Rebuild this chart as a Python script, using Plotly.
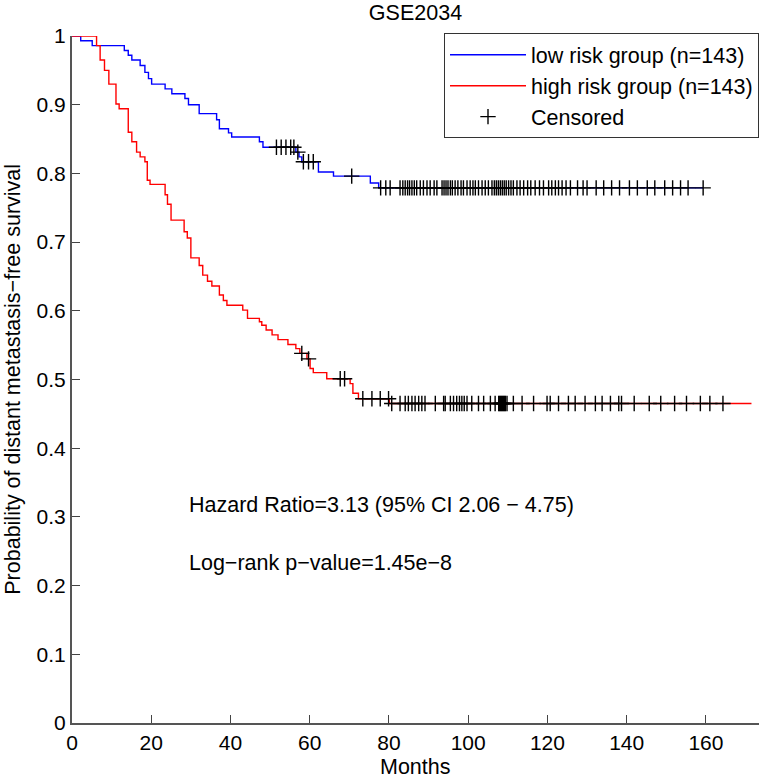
import plotly.graph_objects as go

# step points (months, survival)
low_t = [0, 2.2, 5.1, 13.2, 14.2, 15.1, 17.2, 18.4, 19.3, 20.1, 23.5, 25.2, 28.5, 29.4,
         32.1, 36.5, 37.2, 39.5, 40.3, 47.3, 48.2, 56.5, 57.3, 58.0, 62.2, 66.0, 75.3,
         77.4, 159.3]
low_s = [1.0, 0.993, 0.986, 0.979, 0.972, 0.965, 0.957, 0.947, 0.938, 0.930, 0.923, 0.916,
         0.909, 0.900, 0.887, 0.878, 0.865, 0.859, 0.853, 0.846, 0.838, 0.831, 0.824, 0.817,
         0.802, 0.796, 0.786, 0.779, 0.779]

high_t = [0, 6.2, 7.1, 8.2, 9.3, 11.1, 11.9, 14.2, 15.1, 16.3, 17.2, 18.4, 19.0, 19.7,
          23.5, 24.1, 25.0, 28.3, 29.1, 30.0, 32.1, 33.0, 34.2, 35.3, 37.2, 38.2, 39.1,
          43.1, 44.3, 47.3, 47.9, 49.0, 50.5, 52.0, 54.5, 56.5, 57.5, 59.3, 60.1, 60.9,
          64.3, 70.2, 70.9, 72.3, 80.1, 171.5]
high_s = [1.0, 0.986, 0.965, 0.950, 0.930, 0.901, 0.894, 0.860, 0.846, 0.831, 0.824, 0.817,
          0.790, 0.784, 0.769, 0.755, 0.732, 0.715, 0.706, 0.677, 0.666, 0.652, 0.643, 0.636,
          0.623, 0.615, 0.608, 0.601, 0.589, 0.584, 0.579, 0.572, 0.565, 0.558, 0.551, 0.545,
          0.538, 0.530, 0.516, 0.510, 0.501, 0.494, 0.480, 0.472, 0.465, 0.465]

# censored times
low_cens = [51.6, 52.8, 54.0, 55.2, 56.0, 57.0, 58.4, 59.7, 60.9, 70.6,
            77.9, 79.2, 80.3, 82.8, 83.5, 84.1, 84.7, 85.2, 85.8, 86.4, 87.0, 87.9, 88.7,
            89.6, 90.4, 91.4, 92.1, 93.4, 93.9, 94.4, 94.9, 95.5, 96.0, 96.7, 97.4, 98.2,
            98.8, 99.7, 100.5, 101.2, 101.8, 102.6, 103.5, 104.3, 105.1, 106.0, 106.6,
            107.1, 107.6, 108.1, 108.6, 109.1, 109.6, 110.2, 110.8, 111.4, 112.3, 113.1,
            114.0, 115.0, 115.8, 116.9, 118.0, 119.0, 120.3, 121.1, 122.0, 122.8, 123.7,
            124.7, 125.8, 127.6, 129.0, 130.0, 132.3, 134.2, 136.2, 138.2, 140.7, 142.7,
            145.2, 147.1, 149.6, 151.6, 153.6, 155.5, 159.3]
high_cens = [58.0, 59.7, 67.7, 68.8, 73.4, 75.7, 77.8, 79.9,
             80.7, 82.8, 84.1, 84.9, 85.8, 86.6, 87.5, 88.3, 89.1, 91.7, 93.8, 94.2, 95.5,
             96.3, 97.1, 97.8, 98.4, 99.0, 99.7, 100.9, 102.6, 103.9, 105.6, 106.8, 107.7,
             107.9, 108.2, 108.4, 108.7, 108.9, 109.2, 109.4, 109.8, 111.4, 113.6, 116.5,
             119.9, 120.7, 122.8, 125.3, 127.0, 129.5, 132.1, 133.8, 135.9, 138.0, 138.7,
             141.9, 145.7, 148.6, 152.1, 155.1, 158.6, 161.0, 164.3]

x_ticks = [0, 20, 40, 60, 80, 100, 120, 140, 160]
y_ticks = [0, 0.1, 0.2, 0.3, 0.4, 0.5, 0.6, 0.7, 0.8, 0.9, 1]
y_labels = ["0", "0.1", "0.2", "0.3", "0.4", "0.5", "0.6", "0.7", "0.8", "0.9", "1"]


def surv_at(times, surv, t):
    value = surv[0]
    for ti, si in zip(times, surv):
        if ti <= t:
            value = si
    return value


FONT = "Liberation Sans, Arial, sans-serif"
FS = 21.5

cens_x = low_cens + high_cens
cens_y = [surv_at(low_t, low_s, t) for t in low_cens] + [surv_at(high_t, high_s, t) for t in high_cens]

fig = go.Figure()
fig.add_trace(go.Scatter(x=low_t, y=low_s, mode="lines", line_shape="hv",
                         line=dict(color="#0000ff", width=1.4),
                         name="low risk group (n=143)", cliponaxis=False))
fig.add_trace(go.Scatter(x=high_t, y=high_s, mode="lines", line_shape="hv",
                         line=dict(color="#ff0000", width=1.4),
                         name="high risk group (n=143)", cliponaxis=False))
fig.add_trace(go.Scatter(x=cens_x, y=cens_y, mode="markers",
                         marker=dict(symbol="cross-thin", size=11,
                                     line=dict(color="black", width=1.4)),
                         name="Censored", cliponaxis=False))

fig.add_annotation(x=29, y=0.318, xref="x", yref="y", xanchor="left", yanchor="middle",
                   text="Hazard Ratio=3.13 (95% CI 2.06 \u2212 4.75)", showarrow=False,
                   font=dict(size=FS, color="black", family=FONT))
fig.add_annotation(x=29, y=0.233, xref="x", yref="y", xanchor="left", yanchor="middle",
                   text="Log\u2212rank p\u2212value=1.45e\u22128", showarrow=False,
                   font=dict(size=FS, color="black", family=FONT))

# axis titles
fig.add_annotation(x=0.5, y=-0.064, xref="paper", yref="paper", xanchor="center",
                   yanchor="middle", text="Months", showarrow=False,
                   font=dict(size=FS, color="black", family=FONT))
fig.add_annotation(x=-0.087, y=0.5, xref="paper", yref="paper", xanchor="center",
                   yanchor="middle", textangle=-90, showarrow=False,
                   text="Probability of distant metastasis\u2212free survival",
                   font=dict(size=FS, color="black", family=FONT))

axis_common = dict(showgrid=False, zeroline=False, ticks="inside", ticklen=8, tickwidth=1,
                   tickcolor="#444", showline=True, linecolor="#555", linewidth=2,
                   tickfont=dict(size=21, color="black", family=FONT), mirror=False)

fig.update_layout(
    width=768, height=780,
    margin=dict(l=72, r=9, t=36, b=57),
    paper_bgcolor="white", plot_bgcolor="white",
    font=dict(family=FONT, color="black", size=FS),
    title=dict(text="GSE2034", x=0.541, xanchor="center", y=0.984, yanchor="middle",
               font=dict(size=FS, color="black", family=FONT)),
    xaxis=dict(range=[0, 173.4], tickvals=x_ticks, **axis_common),
    yaxis=dict(range=[0, 1], tickvals=y_ticks, ticktext=y_labels, **axis_common),
    legend=dict(x=1, y=1.004, xanchor="right", yanchor="top", bgcolor="white",
                bordercolor="#333", borderwidth=1, itemwidth=76,
                font=dict(size=FS, color="black", family=FONT), tracegroupgap=0),
    showlegend=True,
)

# drop the default page margin so the figure sits at the window's top-left corner
fig.write_html("out.html", config={"displayModeBar": False},
               post_script="document.body.style.margin='0';")
